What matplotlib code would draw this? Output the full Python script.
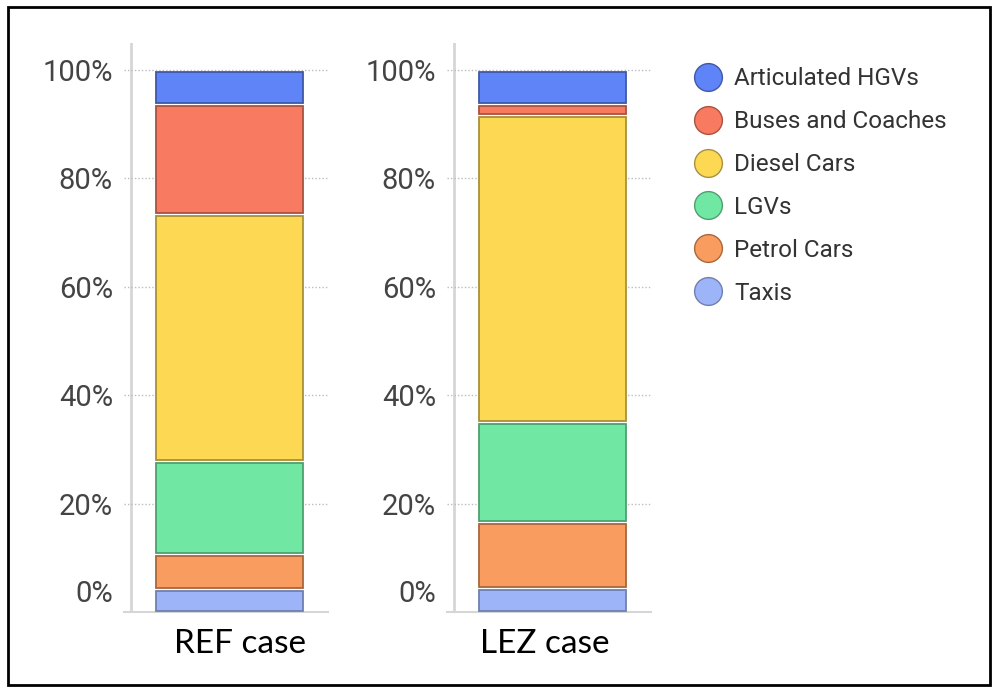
import numpy as np
import matplotlib.pyplot as plt
from matplotlib.lines import Line2D
from matplotlib.patches import Rectangle
from matplotlib.transforms import ScaledTranslation

# vehicle categories, bottom to top of each bar
categories = ['Taxis', 'Petrol Cars', 'LGVs', 'Diesel Cars', 'Buses and Coaches', 'Articulated HGVs']
colors = ['#9db4f8', '#f89d5f', '#70e8a4', '#fdd853', '#f87a60', '#5f84f7']
edge_cols = ['#6f7fb0', '#a8673c', '#4e9f70', '#a8913a', '#a85241', '#3f58a8']

ref_share = [4.2, 6.4, 17.2, 45.6, 20.2, 6.4]
lez_share = [4.4, 12.2, 18.3, 56.7, 2.0, 6.4]
cases = ['REF case', 'LEZ case']
yticks = [0, 20, 40, 60, 80, 100]

fig = plt.figure(figsize=(9.97, 6.91), dpi=100)
W, H = 997, 691

def draw_case(left_px, shares, label, label_x):
    ax = fig.add_axes([left_px / W, (H - 612) / H, 204 / W, (612 - 43) / H])
    gap = 0.55
    bottom = 0
    for v, c, ec in zip(shares, colors, edge_cols):
        ax.bar(0, v - gap, bottom=bottom + gap / 2, width=0.5, color=c,
               edgecolor=ec, linewidth=1.3, zorder=3)
        bottom += v
    ax.set_xlim(-0.36, 0.335)
    ax.set_ylim(0, 105)
    ax.set_yticks(yticks, [f'{t}%' for t in yticks])
    ax.set_xticks([])
    ax.grid(axis='y', linestyle=(0, (1, 1.5)), color='#bdbdbd', linewidth=1)
    for s in ['top', 'right', 'left']:
        ax.spines[s].set_visible(False)
    ax.spines['bottom'].set_color('#d6d6d6')
    ax.spines['bottom'].set_linewidth(1.5)
    ax.axvline(-0.335, color='#d6d6d6', linewidth=2, zorder=1)
    ax.tick_params(axis='y', length=0, pad=8, labelsize=21, labelcolor='#444444')
    for t in ax.get_yticklabels():
        t.set_fontfamily('Roboto')
    # the 0% label sits above the baseline in the original
    t0 = ax.yaxis.get_major_ticks()[0].label1
    t0.set_transform(t0.get_transform() + ScaledTranslation(0, 0.21, fig.dpi_scale_trans))
    fig.text(label_x / W, (H - 644) / H, label, fontsize=24, family='Lato',
             ha='center', va='center', color='black')
    return ax

ax1 = draw_case(124, ref_share, cases[0], 240)
ax2 = draw_case(447, lez_share, cases[1], 545)

# legend, top entry first
handles = [Line2D([], [], linestyle='none', marker='o', markersize=20,
                  markerfacecolor=c, markeredgecolor=ec, markeredgewidth=1)
           for c, ec in zip(colors[::-1], edge_cols[::-1])]
fig.legend(handles, categories[::-1], loc='upper left',
           bbox_to_anchor=(681 / W, (H - 55) / H), frameon=False,
           prop={'family': 'Roboto', 'size': 17.5}, labelcolor='#333333',
           handlelength=1.2, handletextpad=0.5, labelspacing=0.82, borderpad=0)

# outer frame
fig.patches.append(Rectangle((8 / W, 6 / H), 982 / W, 678 / H, transform=fig.transFigure,
                             fill=False, edgecolor='black', linewidth=2))

fig.savefig('out.png', dpi=100)
